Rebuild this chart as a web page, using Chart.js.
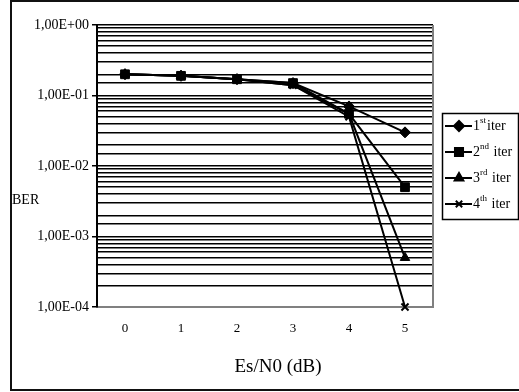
<!DOCTYPE html>
<html>
<head>
<meta charset="utf-8">
<script src="https://cdn.jsdelivr.net/npm/chart.js@4"></script>
<style>
  html, body { margin: 0; padding: 0; background: #fff; overflow: hidden; }
  #wrap { position: relative; width: 519px; height: 392px; overflow: hidden; }
  #frame { position: absolute; left: 10px; top: 0; width: 520px; height: 387px;
    border: 2px solid #111; border-right: none; }
  canvas { position: absolute; left: 0; top: 0; }
  .lbl { position: absolute; font-family: "Liberation Serif", serif; color: #000; white-space: nowrap; }
</style>
</head>
<body>
<div id="wrap">
  <div id="frame"></div>
  <canvas id="chart" width="519" height="392"></canvas>
  <div class="lbl" style="left:12px; top:192px; font-size:14px;">BER</div>
  <div class="lbl" style="left:178px; width:200px; text-align:center; top:355px; font-size:19px;">Es/N0 (dB)</div>
</div>
<script>
var snr = ["0", "1", "2", "3", "4", "5"];
var iter1 = [0.2, 0.19, 0.17, 0.15, 0.07, 0.03];
var iter2 = [0.2, 0.19, 0.17, 0.15, 0.055, 0.005];
var iter3 = [0.2, 0.19, 0.17, 0.14, 0.055, 0.0005];
var iter4 = [0.2, 0.19, 0.17, 0.14, 0.05, 0.0001];
var names = [["1", "st", "iter"], ["2", "nd", " iter"], ["3", "rd", " iter"], ["4", "th", " iter"]];
var styles = ["rectRot", "rect", "triangle", "crossRot"];
var radii = [5.5, 6.2, 5.5, 5];

function isDecade(v) {
  var e = Math.log10(v);
  return Math.abs(e - Math.round(e)) < 1e-9;
}

function sciLabel(v) {
  var e = Math.round(Math.log10(v));
  var s = Math.abs(e) < 10 ? "0" + Math.abs(e) : "" + Math.abs(e);
  return "1,00E" + (e >= 0 ? "+" : "-") + s;
}

function makeSet(i, data) {
  return {
    label: names[i].join(""),
    data: data,
    borderColor: "#000",
    backgroundColor: "#000",
    borderWidth: 2,
    pointStyle: styles[i],
    pointRadius: radii[i],
    pointBackgroundColor: "#000",
    pointBorderColor: "#000",
    pointBorderWidth: i === 3 ? 2 : 1,
    tension: 0,
    clip: false
  };
}

var legendPlugin = {
  id: "iterLegend",
  afterDraw: function (chart) {
    var ctx = chart.ctx;
    ctx.save();
    ctx.strokeStyle = "#000";
    ctx.lineWidth = 1.5;
    ctx.strokeRect(442.5, 113.5, 76, 106);
    for (var i = 0; i < names.length; i++) {
      var y = 126 + i * 26;
      ctx.beginPath();
      ctx.lineWidth = 2;
      ctx.moveTo(445, y);
      ctx.lineTo(472, y);
      ctx.stroke();
      ctx.fillStyle = "#000";
      Chart.helpers.drawPoint(ctx, {
        pointStyle: styles[i], radius: radii[i] - 0.5, rotation: 0,
        borderWidth: i === 3 ? 2 : 1
      }, 459, y);
      ctx.fill();
      var x = 473;
      ctx.textBaseline = "middle";
      ctx.font = "14px 'Liberation Serif'";
      ctx.fillText(names[i][0], x, y);
      x += ctx.measureText(names[i][0]).width;
      ctx.font = "9px 'Liberation Serif'";
      ctx.fillText(names[i][1], x, y - 5);
      x += ctx.measureText(names[i][1]).width + 1;
      ctx.font = "14px 'Liberation Serif'";
      ctx.fillText(names[i][2], x, y);
    }
    ctx.restore();
  }
};

var frameRight = {
  id: "frameRight",
  beforeDatasetsDraw: function (chart) {
    var a = chart.chartArea;
    var ctx = chart.ctx;
    ctx.save();
    ctx.strokeStyle = "#808080";
    ctx.lineWidth = 2;
    ctx.beginPath();
    ctx.moveTo(a.right, a.top);
    ctx.lineTo(a.right, a.bottom);
    ctx.stroke();
    ctx.restore();
  }
};

new Chart(document.getElementById("chart"), {
  type: "line",
  data: {
    labels: snr,
    datasets: [makeSet(0, iter1), makeSet(1, iter2), makeSet(2, iter3), makeSet(3, iter4)]
  },
  options: {
    responsive: false,
    animation: false,
    layout: { padding: { left: 0, top: 25, right: 86, bottom: 0 } },
    plugins: { legend: { display: false }, tooltip: { enabled: false } },
    scales: {
      x: {
        type: "category",
        offset: true,
        grid: { display: false, drawTicks: false },
        border: { display: true, color: "#808080", width: 2 },
        ticks: { color: "#000", padding: 14, font: { family: "Liberation Serif", size: 13 } },
        afterFit: function (s) { s.height = 85; }
      },
      y: {
        type: "logarithmic",
        min: 0.0001,
        max: 1,
        grid: {
          color: "#000",
          lineWidth: 1.5,
          tickLength: 5,
          tickColor: function (c) {
            return c.tick && isDecade(c.tick.value) ? "#000" : "rgba(0,0,0,0)";
          }
        },
        border: { display: true, color: "#000", width: 2 },
        ticks: {
          autoSkip: false,
          color: "#000",
          padding: 3,
          font: { family: "Liberation Serif", size: 14 },
          callback: function (v) { return isDecade(v) ? sciLabel(v) : ""; }
        },
        afterFit: function (s) { s.width = 97; }
      }
    }
  },
  plugins: [frameRight, legendPlugin]
});
</script>
</body>
</html>
